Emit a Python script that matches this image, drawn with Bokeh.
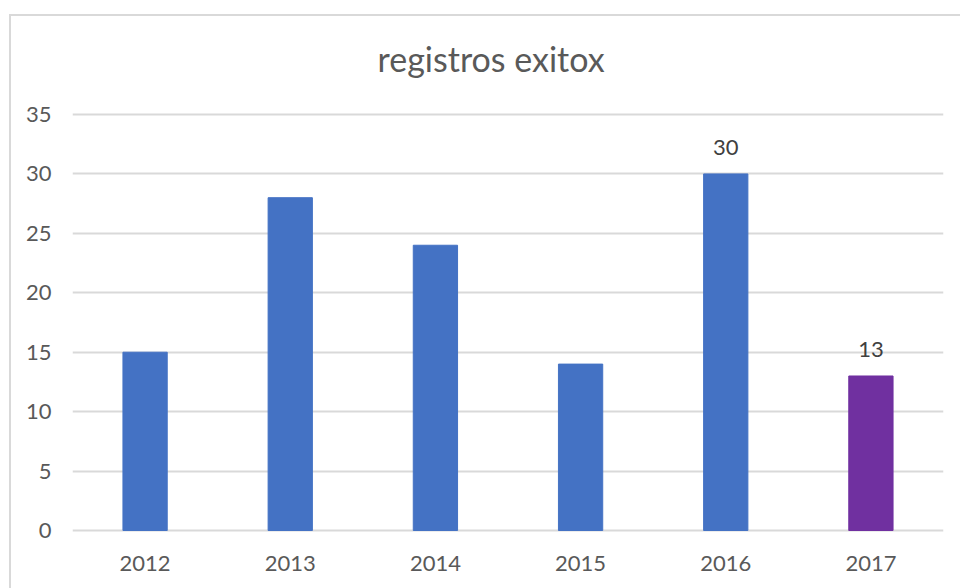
from bokeh.plotting import figure
from bokeh.models import ColumnDataSource, Range1d, BoxAnnotation, LabelSet, Title, InlineStyleSheet
from bokeh.core.properties import value
from bokeh.embed import file_html
from bokeh.resources import INLINE

years = ["2012", "2013", "2014", "2015", "2016", "2017"]
values = [15, 28, 24, 14, 30, 13]
colors = ["#4472C4", "#4472C4", "#4472C4", "#4472C4", "#4472C4", "#7030A0"]
label_years = ["2016", "2017"]
label_values = [30, 13]
y_ticks = [0, 5, 10, 15, 20, 25, 30, 35]
title_text = "registros exitox"

FONT = "Lato"
GREY = "#595959"

p = figure(x_range=years, y_range=Range1d(-0.168, 35.168),
           width=960, height=588, output_backend="svg", toolbar_location=None,
           min_border_left=72, min_border_right=17, min_border_top=112, min_border_bottom=56)
p.title = Title(text=title_text, align="left", text_font=FONT, text_font_size="34px",
                text_font_style="normal", text_color=GREY, offset=305, standoff=68)

src = ColumnDataSource(dict(x=years, top=values, color=colors))
p.vbar(x="x", top="top", width=0.305, bottom=0, fill_color="color", line_color="color", source=src)

lsrc = ColumnDataSource(dict(x=label_years, y=label_values, t=[str(v) for v in label_values]))
p.add_layout(LabelSet(x="x", y="y", text="t", source=lsrc, text_align="center",
                      text_baseline="bottom", y_offset=19, text_font=value(FONT),
                      text_font_size=value("22px"), text_color="#404040"))

p.outline_line_color = None
p.background_fill_color = "white"
p.border_fill_color = "white"
p.xgrid.grid_line_color = None
p.ygrid.grid_line_color = "#d9d9d9"
p.ygrid.grid_line_width = 2
p.ygrid.ticker = y_ticks
p.yaxis.ticker = y_ticks

for ax in (p.xaxis, p.yaxis):
    ax.axis_line_color = None
    ax.major_tick_line_color = None
    ax.minor_tick_line_color = None
    ax.major_label_text_font = FONT
    ax.major_label_text_font_size = "22px"
    ax.major_label_text_color = GREY
p.yaxis.major_label_standoff = 15
p.xaxis.major_label_standoff = 17

p.add_layout(BoxAnnotation(left=10, top=15, right=1200, bottom=1200,
                           left_units="canvas", right_units="canvas",
                           top_units="canvas", bottom_units="canvas",
                           fill_alpha=0, line_color="#d9d9d9", line_width=2))

p.stylesheets = [InlineStyleSheet(css=(
    ":host::after { content: ''; position: absolute; left: 9px; top: 14px; "
    "width: 1200px; height: 1200px; border-left: 2px solid #d9d9d9; "
    "border-top: 2px solid #d9d9d9; pointer-events: none; z-index: 10; }"))]

open("out.html", "w").write(file_html(p, INLINE))
